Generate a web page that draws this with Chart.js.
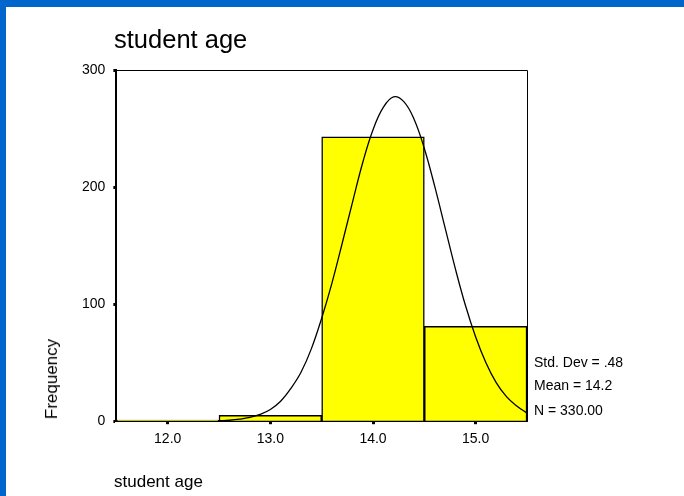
<!DOCTYPE html>
<html>
<head>
<meta charset="utf-8">
<script src="https://cdn.jsdelivr.net/npm/chart.js@4/dist/chart.umd.min.js"></script>
<style>
  html, body { margin: 0; padding: 0; }
  body {
    width: 684px; height: 496px; position: relative; overflow: hidden;
    background: #fff; font-family: "Liberation Sans", Arial, sans-serif;
  }
  .frameTop { position: absolute; left: 0; top: 0; width: 684px; height: 7px; background: #0066cc; }
  .frameLeft { position: absolute; left: 0; top: 0; width: 6px; height: 496px; background: #0066cc; }
  #wrap { position: absolute; left: 0; top: 0; width: 684px; height: 496px; }
  .txt { position: absolute; color: #000; white-space: nowrap; line-height: normal; }
  #title { left: 114px; top: 25px; font-size: 25.5px; }
  #xTitle { left: 114px; top: 472px; font-size: 17px; }
  #yTitle { left: 52px; top: 379px; font-size: 17px; transform: translate(-50%, -50%) rotate(-90deg); }
  .stat { left: 534px; font-size: 14px; }
</style>
</head>
<body>
<div class="frameTop"></div>
<div class="frameLeft"></div>
<div id="wrap"><canvas id="histChart"></canvas></div>
<div class="txt" id="title">student age</div>
<div class="txt" id="yTitle">Frequency</div>
<div class="txt" id="xTitle">student age</div>
<div class="txt stat" style="top:354px">Std. Dev = .48</div>
<div class="txt stat" style="top:377px">Mean = 14.2</div>
<div class="txt stat" style="top:402px">N = 330.00</div>

<script>
// histogram bins (age) and counts
const ages = [12, 13, 14, 15];
const counts = [1, 5, 243, 81];

// normal curve
const curveAges = [12.5, 12.6, 12.7, 12.8, 12.9, 13.0, 13.1, 13.2, 13.3, 13.4, 13.5, 13.6, 13.7, 13.8, 13.9,
  14.0, 14.1, 14.2, 14.3, 14.4, 14.5, 14.6, 14.7, 14.8, 14.9, 15.0, 15.1, 15.2, 15.3, 15.4, 15.5];
const curveFreq = [0.4, 0.8, 1.7, 3.2, 5.8, 10, 17, 28, 42, 62, 88, 118, 152, 187, 221,
  249, 268, 277, 273, 258, 233, 201, 166, 131, 99, 72, 50, 33, 21, 13, 7];

const xTicks = [12, 13, 14, 15];
const yTicks = [0, 100, 200, 300];

// box around the plot area (top and right sides)
const frameBox = {
  id: 'frameBox',
  afterDraw(chart) {
    const a = chart.chartArea;
    const ctx = chart.ctx;
    ctx.save();
    ctx.strokeStyle = '#000';
    ctx.lineWidth = 1;
    ctx.beginPath();
    ctx.moveTo(a.left, a.top + 0.5);
    ctx.lineTo(a.right + 0.5, a.top + 0.5);
    ctx.lineTo(a.right + 0.5, a.bottom);
    ctx.stroke();
    ctx.restore();
  }
};

const ctx = document.getElementById('histChart').getContext('2d');
new Chart(ctx, {
  type: 'bar',
  data: {
    datasets: [{
      type: 'line',
      data: curveAges.map((a, i) => ({ x: a, y: curveFreq[i] })),
      borderColor: '#000',
      borderWidth: 1.3,
      pointRadius: 0,
      tension: 0.4,
      fill: false,
      order: 0
    }, {
      type: 'bar',
      data: ages.map((a, i) => ({ x: a, y: counts[i] })),
      backgroundColor: '#ffff00',
      borderColor: '#000',
      borderWidth: 1.5,
      barPercentage: 1,
      categoryPercentage: 1,
      order: 1
    }]
  },
  options: {
    responsive: true,
    maintainAspectRatio: false,
    animation: false,
    layout: { padding: { left: 74, right: 157, top: 70, bottom: 41 } },
    plugins: { legend: { display: false }, tooltip: { enabled: false } },
    scales: {
      x: {
        type: 'linear',
        min: 11.5,
        max: 15.5,
        offset: false,
        afterBuildTicks: (scale) => { scale.ticks = xTicks.map(v => ({ value: v })); },
        ticks: {
          color: '#000',
          font: { family: 'Liberation Sans', size: 14 },
          padding: 7,
          maxRotation: 0,
          callback: (v) => v.toFixed(1)
        },
        grid: { display: true, offset: false, drawOnChartArea: false, tickLength: 3, tickWidth: 3, tickColor: '#000' },
        border: { display: true, color: '#000', width: 2 }
      },
      y: {
        min: 0,
        max: 300,
        afterBuildTicks: (scale) => { scale.ticks = yTicks.map(v => ({ value: v })); },
        ticks: {
          color: '#000',
          font: { family: 'Liberation Sans', size: 14 },
          padding: 8
        },
        grid: { display: true, drawOnChartArea: false, tickLength: 3, tickWidth: 3, tickColor: '#000' },
        border: { display: true, color: '#000', width: 2 }
      }
    }
  },
  plugins: [frameBox]
});
</script>
</body>
</html>
